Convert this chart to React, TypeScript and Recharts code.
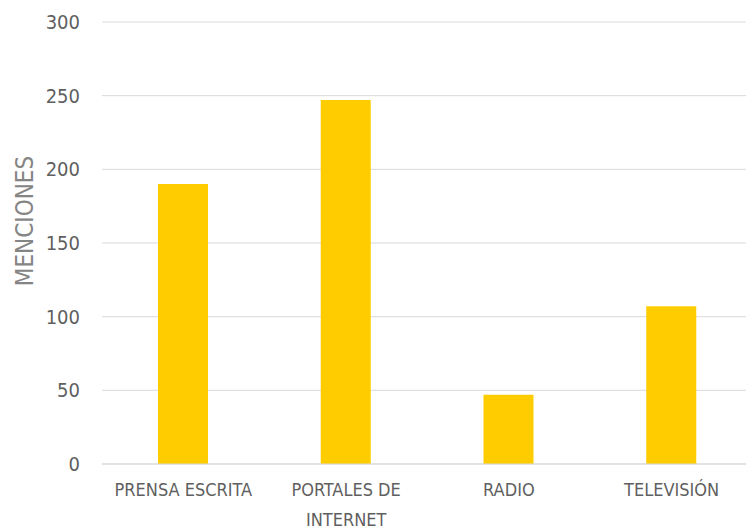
import React from 'react';
import { BarChart, Bar, XAxis, YAxis, CartesianGrid, Text } from 'recharts';

const categories = ['PRENSA ESCRITA', 'PORTALES DE INTERNET', 'RADIO', 'TELEVISIÓN'];
const menciones = [190, 247, 47, 107];
const yTicks = [0, 50, 100, 150, 200, 250, 300];

const data = categories.map((name, i) => ({ name, value: menciones[i] }));

const FONT = '"Liberation Sans Narrow", "Arial Narrow", "DejaVu Sans Condensed", sans-serif';
const TEXT_COLOR = '#5f5f5f';
const GRID = '#d9d9d9';

const CategoryTick = (props: any) => {
  const { x, y, payload } = props;
  return (
    <Text
      x={x}
      y={y + 19}
      width={140}
      textAnchor="middle"
      verticalAnchor="start"
      lineHeight={30}
      fill={TEXT_COLOR}
      style={{ fontFamily: FONT, fontSize: 18 }}
    >
      {payload.value}
    </Text>
  );
};

const AxisTitle = (props: any) => {
  const { viewBox } = props;
  return (
    <Text
      x={viewBox.x + 24}
      y={viewBox.y + viewBox.height / 2 - 22}
      angle={-90}
      textAnchor="middle"
      verticalAnchor="middle"
      fill="#858585"
      style={{ fontFamily: FONT, fontSize: 24 }}
    >
      MENCIONES
    </Text>
  );
};

export default function App() {
  return (
    <div style={{ position: 'absolute', left: 0, top: 0, width: 746, height: 529, overflow: 'hidden', background: '#fff' }}>
      <BarChart width={754} height={529} data={data} margin={{ top: 22, right: 1, left: 0, bottom: 0 }}>
        <CartesianGrid vertical={false} stroke={GRID} />
        <XAxis
          dataKey="name"
          height={65}
          tickLine={false}
          tickSize={0}
          tickMargin={0}
          axisLine={{ stroke: GRID }}
          interval={0}
          tick={<CategoryTick />}
        />
        <YAxis
          width={102}
          domain={[0, 300]}
          ticks={yTicks}
          tickLine={false}
          tickSize={0}
          tickMargin={22}
          axisLine={false}
          tick={{ fill: TEXT_COLOR, fontSize: 20, fontFamily: FONT }}
          label={{ content: <AxisTitle /> }}
        />
        <Bar dataKey="value" fill="#FFCC00" barSize={50} isAnimationActive={false} />
      </BarChart>
    </div>
  );
}
